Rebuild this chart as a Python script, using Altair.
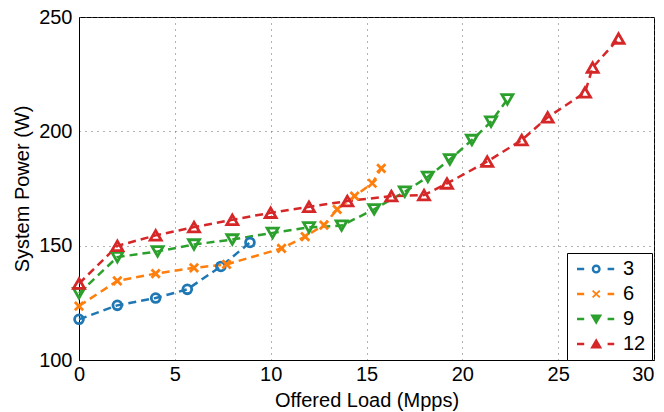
import altair as alt
import pandas as pd

series = ["3", "6", "9", "12"]
colors = ["#1f77b4", "#ff7f0e", "#2ca02c", "#d62728"]

x3 = [0, 2.0, 4.0, 5.65, 7.4, 8.92]
p3 = [117.8, 123.9, 127.1, 130.9, 140.9, 151.4]

x6 = [0, 2.0, 4.0, 6.0, 7.7, 10.57, 11.8, 12.78, 13.47, 14.38, 15.3, 15.77]
p6 = [123.6, 134.6, 137.8, 140.3, 141.8, 148.8, 154.0, 159.0, 165.9, 171.7, 177.3, 183.8]

x9 = [0, 2.0, 4.1, 6.0, 8.0, 10.1, 12.0, 13.7, 15.4, 17.0, 18.2, 19.35, 20.5, 21.5, 22.35]
p9 = [129.2, 145.0, 147.5, 150.5, 152.7, 155.6, 158.0, 158.8, 165.9, 173.6, 180.1, 187.7, 196.2, 204.2, 214.0]

x12 = [0, 2.0, 4.0, 6.0, 8.0, 10.0, 12.0, 14.0, 16.3, 18.0, 19.2, 21.3, 23.1, 24.45, 26.4, 26.8, 28.15]
p12 = [133.4, 149.9, 154.5, 158.1, 161.3, 164.4, 167.0, 169.5, 171.7, 172.1, 177.2, 186.8, 196.2, 206.1, 217.0, 227.9, 240.6]

x_ticks = [0, 5, 10, 15, 20, 25, 30]
y_ticks = [100, 150, 200, 250]

rows = []
for s, xs, ps in zip(series, [x3, x6, x9, x12], [p3, p6, p9, p12]):
    for i, (xv, pv) in enumerate(zip(xs, ps)):
        rows.append({"series": s, "load": xv, "power": pv, "order": i})
df = pd.DataFrame(rows)

FONT = "Liberation Sans"

# marker shapes (plot)
circle_path = "M-0.8,0A0.8,0.8 0 1,0 0.8,0A0.8,0.8 0 1,0 -0.8,0Z"
x_path = "M-0.75,-0.75L0.75,0.75M-0.75,0.75L0.75,-0.75"
marker_shapes = [circle_path, x_path, "triangle-down", "triangle-up"]

# legend symbols (filled): dash - marker - dash
dash = "M-1,-0.2H0.2V0.2H-1ZM4.1,-0.2H5.2V0.2H4.1Z"
leg_paths = [
    dash + "M1.45,0A0.75,0.75 0 1,0 2.95,0A0.75,0.75 0 1,0 1.45,0Z"
           "M1.85,0A0.35,0.35 0 1,1 2.55,0A0.35,0.35 0 1,1 1.85,0Z",
    dash + "M1.499,-0.439L2.699,0.661L2.901,0.439L1.701,-0.661Z"
           "M1.499,0.439L1.701,0.661L2.901,-0.439L2.699,-0.661Z",
    dash + "M1.2,-0.75L3.2,-0.75L2.2,0.95Z",
    dash + "M1.2,0.75L3.2,0.75L2.2,-0.95Z",
]

color_scale = alt.Scale(domain=series, range=colors)

xenc = alt.X("load:Q", scale=alt.Scale(domain=[0, 30], nice=False),
             axis=alt.Axis(values=x_ticks, title="Offered Load (Mpps)", labelPadding=4,
                           titlePadding=6, labelFlush=False,
                           labelAlign={"condition": {"test": "datum.value >= 30", "value": "right"},
                                       "value": "center"}))
yenc = alt.Y("power:Q", scale=alt.Scale(domain=[100, 250], nice=False, zero=False),
             axis=alt.Axis(values=y_ticks, title="System Power (W)", labelPadding=7,
                           titlePadding=6, labelFlush=False))

base = alt.Chart(df)

lines = base.mark_line(strokeDash=[8, 5], strokeWidth=2.5).encode(
    x=xenc, y=yenc,
    color=alt.Color("series:N", scale=color_scale, legend=None),
    order="order:Q",
)

points = base.mark_point(filled=False, strokeWidth=2.8, size=121, opacity=1).encode(
    x=xenc, y=yenc,
    color=alt.Color("series:N", scale=color_scale, legend=None),
    shape=alt.Shape("series:N", scale=alt.Scale(domain=series, range=marker_shapes), legend=None),
)

leg = alt.Legend(
    title=None, orient="none", legendX=488, legendY=236,
    symbolSize=144, labelOffset=30, symbolOpacity=1,
    labelFontSize=20, labelFont=FONT, labelColor="black",
    rowPadding=5, padding=6,
    fillColor="white", strokeColor="black",
)

legend_layer = base.transform_filter("false").mark_point(filled=True, size=144, opacity=1).encode(
    x=xenc, y=yenc,
    color=alt.Color("series:N", scale=color_scale, legend=leg),
    shape=alt.Shape("series:N", scale=alt.Scale(domain=series, range=leg_paths), legend=leg),
)

chart = alt.layer(lines, points, legend_layer).resolve_scale(
    shape="independent", color="independent"
).properties(
    width=575, height=343,
    padding={"left": 71, "top": 9, "right": 2, "bottom": 52},
    autosize="none",
).configure_view(stroke="black", strokeWidth=1).configure_axis(
    labelFont=FONT, titleFont=FONT, labelFontSize=20, titleFontSize=20,
    titleFontWeight="normal", labelColor="black", titleColor="black",
    ticks=False, domainColor="black", grid=True, gridColor="#666", gridDash=[1, 5],
    gridWidth=1,
)

chart.save("out.html", embed_options={"renderer": "svg", "actions": False})
